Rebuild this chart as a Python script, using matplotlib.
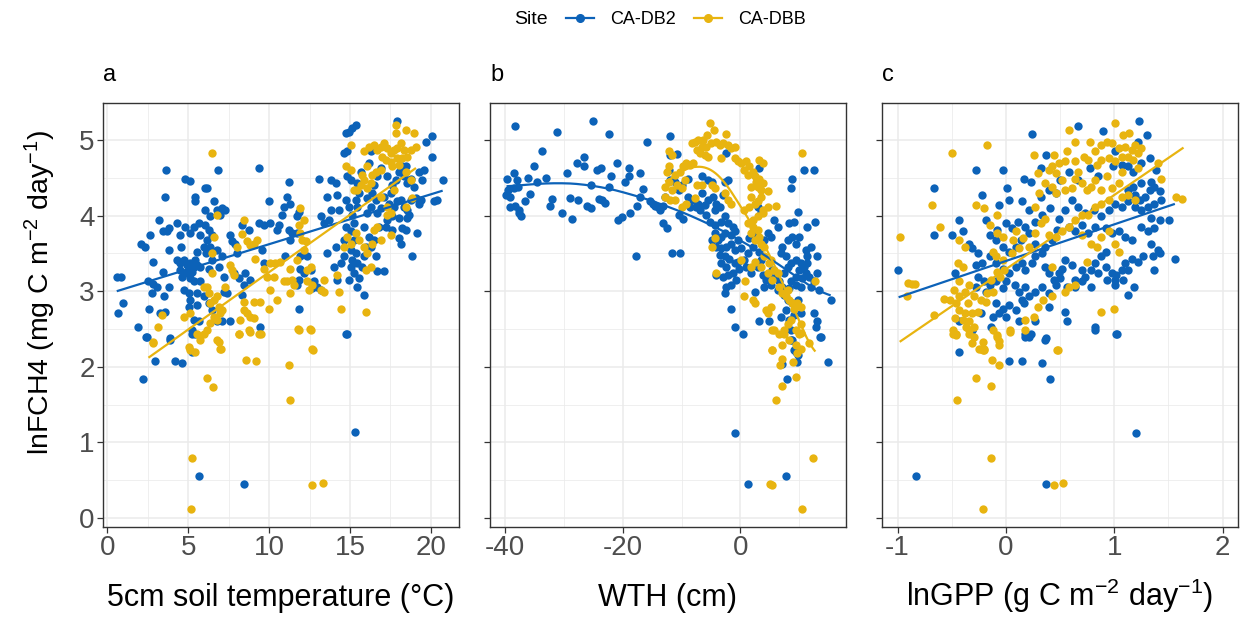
import matplotlib
matplotlib.use("Agg")
import matplotlib.pyplot as plt
from matplotlib.lines import Line2D
import numpy as np

plt.rcParams['font.family'] = ['Liberation Sans', 'DejaVu Sans']
plt.rcParams['mathtext.fontset'] = 'custom'
plt.rcParams['mathtext.rm'] = 'Liberation Sans'
plt.rcParams['mathtext.it'] = 'Liberation Sans:italic'
plt.rcParams['mathtext.bf'] = 'Liberation Sans:bold'
plt.rcParams['axes.unicode_minus'] = False

sites = ["CA-DB2", "CA-DBB"]
site_colors = ["#0C62B8", "#E8B410"]

# ---------------- Panel a: soil temperature (°C) vs lnFCH4 ----------------
a_db2 = [(0.58,3.19),(0.83,3.19),(0.99,2.85),(0.68,2.71),(1.92,2.53),(2.44,2.39),(2.6,2.76),(2.09,3.62),(2.33,3.59),
(2.64,3.74),(2.85,3.39),(2.54,3.13),(2.85,3.1),(3.06,3.06),(2.75,2.97),(3.22,3.94),(3.47,3.79),(3.68,3.79),(3.84,3.83),
(3.57,4.25),(3.64,4.6),(3.26,2.71),(3.57,2.73),(3.88,2.36),(3.78,3.55),(3.47,3.26),(3.78,3.06),(3.51,2.93),(4.3,3.9),
(4.5,3.74),(4.82,4.49),(5.08,4.46),(4.55,3.59),(4.82,3.85),(4.3,3.41),(4.5,3.37),(4.71,3.41),(4.92,3.35),(5.12,3.37),
(5.33,3.32),(5.54,3.35),(4.5,3.28),(4.82,3.24),(5.02,3.28),(5.23,3.26),(4.61,3.19),(5.12,3.17),(5.43,3.41),(5.74,3.32),
(5.54,3.52),(5.95,3.59),(5.74,3.74),(5.64,3.9),(5.12,3.77),(5.33,3.85),(6.01,4.36),(6.16,4.36),(5.43,4.25),(5.43,4.19),
(6.06,4.07),(6.57,4.19),(6.36,3.99),(6.06,3.88),(6.26,3.81),(6.47,3.74),(6.16,3.68),(6.36,3.59),(6.12,3.5),(6.47,3.41),
(6.26,3.3),(5.74,3.13),(5.33,3.13),(4.71,3.02),(5.02,2.97),(5.54,2.97),(5.12,2.88),(5.02,2.79),(5.54,2.82),(5.33,2.62),
(5.64,2.6),(5.23,2.49),(5.43,2.44),(5.95,2.93),(6.26,2.84),(6.47,2.75),(6.78,2.6),(7.09,2.6),(7.6,2.61),(6.84,4.6),
(6.78,4.07),(7.09,4.1),(7.29,4.07),(6.98,4.01),(6.78,3.55),(7.09,3.46),(6.88,3.32),(7.19,3.19),(7.19,2.99),(7.4,2.97),
(7.6,3.74),(7.71,3.66),(7.91,3.63),(8.02,3.5),(7.81,3.24),(8.12,3.17),(8.33,3.88),(8.74,3.81),(8.84,3.15),(8.53,3.24),
(8.43,3.08),(8.33,2.95),(9.36,4.63),(9.36,3.9),(9.67,3.88),(10.08,3.9),(10.6,3.88),(9.98,4.19),(9.57,3.55),(9.67,3.37),
(9.46,2.53),(10.5,3.81),(10.9,4.12),(11.12,4.25),(11.32,4.16),(10.8,4.01),(11.22,4.45),(11.22,3.81),(11.43,3.77),
(11.32,3.68),(11.0,3.46),(11.74,3.99),(11.84,4.05),(11.74,3.77),(11.94,3.46),(12.36,3.46),(11.94,3.3),(12.15,3.24),
(12.56,3.28),(11.84,3.15),(11.74,3.08),(12.77,3.13),(12.98,3.06),(12.67,3.04),(13.18,3.02),(11.84,2.77),(13.08,4.49),
(13.18,3.99),(13.39,3.9),(13.7,3.94),(13.8,4.07),(13.6,4.25),(13.8,4.47),(14.11,4.43),(14.21,4.27),(14.31,4.07),
(13.6,3.5),(14.11,3.59),(14.0,3.32),(14.21,3.15),(14.42,3.37),(14.63,3.46),(14.63,3.68),(14.73,3.85),(14.79,2.44),
(14.73,5.09),(14.94,5.11),(15.15,5.16),(15.35,5.2),(14.63,4.83),(14.83,4.85),(14.83,4.52),(15.04,4.47),(14.73,4.21),
(14.94,4.12),(15.15,4.01),(15.25,3.9),(15.35,4.21),(15.45,4.12),(15.56,4.3),(15.66,4.58),(15.45,4.43),(15.04,3.79),
(15.25,3.68),(15.04,3.55),(15.35,3.5),(15.15,3.41),(15.45,3.37),(15.04,3.32),(15.25,3.24),(15.56,3.17),(14.94,3.15),
(15.45,3.06),(15.76,3.32),(15.87,3.46),(15.87,2.95),(15.97,3.59),(16.18,3.72),(15.87,3.85),(16.07,4.03),(16.28,4.12),
(16.07,4.23),(16.38,4.3),(16.49,4.41),(16.18,4.69),(16.28,4.85),(16.69,4.52),(16.59,4.21),(16.69,4.03),(16.9,4.1),
(16.8,3.85),(16.49,3.68),(16.28,3.59),(16.59,3.46),(16.69,3.27),(17.11,3.27),(16.9,4.63),(17.31,4.52),(17.11,4.25),
(17.42,4.16),(17.52,4.3),(17.62,4.41),(17.83,4.47),(18.04,4.58),(17.93,5.25),(18.24,4.65),(18.45,4.65),(18.35,4.52),
(18.55,4.43),(18.76,4.49),(18.97,4.38),(17.73,4.12),(17.93,4.19),(18.14,4.21),(18.35,4.12),(18.55,4.07),(18.76,4.21),
(19.07,4.23),(17.31,3.94),(17.62,3.99),(17.21,3.85),(17.62,3.81),(18.04,3.97),(18.55,3.97),(18.45,3.81),(18.24,3.83),
(18.66,4.01),(18.14,3.63),(18.04,3.7),(19.17,3.77),(18.86,3.46),(19.28,4.16),(19.38,4.21),(19.59,4.6),(19.69,4.98),
(20.1,5.05),(20.1,4.78),(20.2,4.19),(20.41,4.21),(20.72,4.47),(19.48,4.47),(19.28,4.58),
(2.23,1.84),(2.96,2.07),(4.2,2.07),(4.6,2.05),(2.4,2.40),(3.89,2.38),(5.23,2.2),(5.25,2.43),
(5.64,0.55),(8.43,0.455),(15.3,1.135),(14.78,2.44)]

a_dbb = [(6.47,4.83),(8.43,3.94),(8.33,3.76),(8.64,3.66),(8.84,3.61),(9.05,3.63),(9.26,3.68),(8.02,3.59),(9.15,3.43),
(9.67,3.3),(10.08,3.37),(9.88,3.19),(10.29,3.19),(10.39,3.37),(10.7,3.39),(10.08,3.02),(11.32,3.3),(11.43,3.15),
(11.12,3.13),(10.9,3.13),(11.53,3.08),(11.94,4.1),(11.84,3.88),(12.15,3.94),(11.94,3.77),(12.04,3.68),(12.25,3.66),
(12.15,3.55),(11.74,3.41),(12.36,3.28),(12.56,3.32),(13.39,3.15),(13.18,3.02),(13.39,2.99),(12.36,3.13),(12.67,3.08),
(12.46,3.02),(11.32,2.97),(10.5,2.88),(9.98,2.77),(9.46,2.86),(9.05,2.86),(8.43,2.86),(8.43,2.75),(8.64,2.71),
(8.84,2.66),(9.05,2.64),(8.22,2.62),(8.74,2.49),(9.36,2.44),(8.12,2.44),(11.84,2.49),(12.56,2.49),(12.67,2.23),
(14.42,2.77),(15.97,2.73),(14.31,2.99),(14.21,3.21),(14.83,3.72),(15.04,3.63),(14.63,3.59),(15.35,3.77),(15.56,3.68),
(15.87,3.59),(16.07,3.5),(16.38,3.63),(16.69,3.85),(16.9,3.68),(16.49,3.81),(17.52,3.74),(17.52,4.03),(17.31,4.01),
(15.97,3.28),(16.28,3.32),(15.45,4.34),(15.66,4.41),(15.87,4.47),(16.07,4.36),(16.28,4.43),(15.04,4.94),(14.73,4.65),
(15.04,4.6),(15.25,4.34),(15.87,4.85),(16.18,4.91),(16.49,4.94),(16.69,4.87),(16.9,4.91),(17.11,4.96),(17.31,4.89),
(17.52,4.83),(17.73,4.87),(17.93,4.89),(18.14,4.96),(18.35,4.87),(18.55,4.78),(18.76,4.87),(18.45,5.13),(18.97,5.09),
(17.83,5.09),(17.83,5.2),(16.97,4.78),(17.21,4.74),(17.52,4.71),(17.93,4.76),(18.24,4.76),(17.62,4.65),(18.04,4.67),
(18.45,4.58),(18.76,4.47),(16.9,4.6),(16.59,4.58),(16.38,4.54),(16.07,4.65),(15.76,4.54),(19.07,4.91),(18.86,4.23),
(18.45,4.12),(17.31,4.12),(16.9,4.25),(17.73,4.34),
(6.78,4.01),(6.57,3.72),(6.47,3.5),(5.95,3.06),(6.16,3.06),(6.26,2.97),(6.47,3.24),(6.36,2.84),(6.57,2.88),(6.78,2.93),
(6.88,2.79),(7.09,2.75),(6.98,2.71),(6.57,2.66),(6.78,2.62),(6.36,2.58),(6.16,2.49),(5.95,2.44),(5.54,2.44),(6.78,2.35),
(6.98,2.24),(5.02,2.26),(5.12,2.22),(5.74,2.35),(4.71,2.66),(5.12,2.71),(3.16,2.53),(2.85,2.33),(3.37,2.68),(7.6,3.35),
(7.71,3.28),(7.29,3.06),(7.81,3.21),
(2.85,2.32),(5.44,2.2),(6.16,1.85),(6.54,1.73),(6.9,2.33),(7.0,2.23),(8.12,2.43),(8.8,2.46),(9.5,2.43),(8.6,2.09),
(9.2,2.07),(11.22,2.02),(11.28,1.56),(11.8,2.5),(12.5,2.5),(12.71,2.22),(5.23,0.79),(5.17,0.115),(12.67,0.44),(13.33,0.46)]

a_fit_db2 = [(0.58, 3.0), (20.73, 4.33)]
a_fit_dbb = [(2.54, 2.12), (19.08, 4.63)]

# ---------------- Panel b: WTH (cm) vs lnFCH4 ----------------
b_db2 = [(-38.2,5.19),(-31.1,5.11),(-25.1,5.25),(-22.3,5.08),(-33.7,4.85),(-39.7,4.49),(-38.5,4.57),(-38.0,4.47),
(-39.4,4.34),(-39.8,4.27),(-39.1,4.25),(-38.5,4.36),(-37.8,4.38),(-39.1,4.12),(-38.2,4.13),(-37.5,4.07),(-37.2,3.99),
(-37.6,4.03),(-36.1,4.5),(-35.0,4.66),(-35.7,4.29),(-36.5,4.19),(-34.5,4.44),(-33.0,4.5),(-32.0,4.22),(-32.4,4.13),
(-30.2,4.04),(-29.5,4.57),(-29.0,4.23),(-28.6,3.96),(-27.5,4.21),(-27.7,4.69),(-26.5,4.65),(-26.5,4.77),(-26.0,4.13),
(-25.4,4.1),(-25.3,4.41),(-24.3,4.6),(-23.6,4.63),(-24.0,4.22),(-23.5,4.21),(-23.0,4.17),(-22.3,4.38),(-21.9,4.52),
(-20.9,4.69),(-20.8,3.94),(-20.1,3.98),(-19.6,4.44),(-19.0,4.63),(-18.7,4.03),(-19.0,4.53),(-17.6,4.13),(-17.7,3.46),
(-17.0,4.56),(-16.6,4.35),(-15.9,4.98),(-17.0,4.24),(-15.3,4.19),(-14.9,4.15),(-14.5,4.13),(-14.0,4.11),(-13.6,4.08),
(-13.2,4.13),(-12.8,4.25),(-13.1,3.9),(-12.5,3.83),(-12.2,4.6),(-12.0,5.05),(-11.7,3.5),(-10.3,3.5),(-12.0,4.8),
(-10.8,4.82),(-12.0,4.47),(-11.1,4.45),(-10.5,4.34),(-10.0,4.41),(-10.5,4.01),(-9.7,3.96),(-8.9,4.49),(-8.9,4.25),
(-8.0,4.21),(-8.6,4.12),(-7.2,4.16),(-6.6,4.52),(-6.6,4.3),(-5.5,4.47),(-4.9,4.45),(-7.5,4.12),(-6.9,4.07),(-6.1,4.14),
(-5.5,4.21),(-4.7,4.25),(-4.1,4.16),(-4.4,4.07),(-3.5,4.12),(-2.97,4.27),(-2.7,4.45),(-2.1,4.47),(-2.4,4.83),
(-5.8,4.01),(-5.2,3.92),(-4.4,3.88),(-3.3,3.92),(-2.7,3.99),(-2.1,3.9),(-1.3,3.85),(-1.0,3.79),(-1.6,3.74),(-2.7,3.77),
(-3.3,3.72),(-3.8,3.68),(-4.4,3.77),(-4.9,3.68),(-4.1,3.59),(-3.3,3.57),(-2.4,3.59),(-1.6,3.63),(-1.0,3.55),(-0.45,3.68),
(0.1,3.57),(-3.5,3.48),(-2.7,3.46),(-1.9,3.43),(-1.0,3.37),(-0.45,3.39),(-0.2,3.3),(-3.3,3.37),(-2.4,3.32),(-4.1,3.21),
(-2.97,3.19),(-2.1,3.21),(-1.3,3.24),(-2.4,3.06),(-1.6,3.08),(-0.7,3.15),(-2.7,2.97),(-1.6,2.77),(-1.0,2.53),(0.4,2.44),
(2.4,2.99),(3.2,2.6),(4.9,2.6),(1.2,3.5),(2.1,3.59),(1.5,3.7),(2.4,3.77),(0.67,3.41),(1.0,3.32),(1.8,3.24),(2.9,3.32),
(3.5,3.41),(3.2,3.52),(4.0,3.68),(4.6,3.77),(5.2,3.72),(5.7,3.94),(6.3,3.85),(3.5,4.05),(2.9,4.12),(3.2,4.63),
(3.8,3.21),(4.3,3.15),(4.9,3.19),(5.4,3.28),(6.0,3.19),(6.6,3.13),(4.0,3.06),(5.2,3.08),(6.3,3.02),(7.1,3.06),(7.4,3.24),
(8.0,3.32),(8.5,3.37),(7.7,3.46),(6.8,3.5),(7.1,3.59),(8.0,3.68),(8.8,3.72),(9.4,3.63),(9.9,3.72),(8.2,3.9),(9.1,3.92),
(9.7,4.05),(11.3,3.85),(12.6,3.92),(8.5,4.36),(8.8,4.48),(10.8,4.6),(12.5,4.6),(9.4,3.41),(10.2,3.37),(10.8,3.32),
(11.3,3.37),(9.9,3.28),(9.4,3.19),(10.5,3.17),(11.1,3.24),(11.6,3.19),(8.5,3.13),(9.4,3.08),(10.2,3.06),(8.2,3.04),
(7.4,2.95),(11.9,3.06),(12.5,3.13),(13.0,3.24),(13.0,3.46),(11.1,3.55),(11.9,3.59),(11.3,3.46),(15.3,2.89),(13.3,3.02),
(8.0,2.88),(8.8,2.84),(9.7,2.88),(7.7,2.75),(6.8,2.66),(8.2,2.62),(9.1,2.68),(10.2,2.71),(12.5,2.71),(13.0,2.6),
(12.8,2.53),(8.5,2.49),(8.8,2.35),(9.1,2.22),(9.7,2.15),(13.6,2.4),(14.8,2.06),
(8.6,2.36),(9.5,2.2),(7.1,2.04),(9.65,2.06),(7.9,1.84),(13.5,2.39),(-0.9,1.13),(1.23,0.455),(7.8,0.55)]

b_dbb = [(-5.2,5.22),(-4.5,5.13),(-2.4,5.08),(-5.6,5.07),(-6.3,5.0),(-7.2,5.0),(-7.7,4.98),(-8.3,4.96),(-6.6,4.91),
(-5.8,4.91),(-7.4,4.87),(-6.9,4.83),(-6.1,4.8),(-5.5,4.78),(-5.0,4.96),(-4.1,4.98),(-3.5,4.94),(-3.0,4.96),(-2.1,4.94),
(-1.6,4.89),(-1.0,4.91),(-3.3,4.76),(-1.0,4.76),(-0.45,4.72),(0.1,4.69),(0.95,4.72),(1.5,4.65),(0.67,4.6),(1.2,4.54),
(2.1,4.58),(2.4,4.52),(2.6,4.45),(3.2,4.49),(2.9,4.38),(3.5,4.34),(3.8,4.43),(3.2,4.74),(3.8,4.69),(10.5,4.83),
(4.6,4.32),(3.5,4.25),(-12.2,4.85),(-11.7,4.8),(-12.2,4.65),(-12.5,4.58),(-11.1,4.54),(-10.3,4.58),(-9.7,4.65),
(-9.2,4.69),(-8.6,4.67),(-8.0,4.69),(-12.2,4.45),(-12.8,4.38),(-11.7,4.34),(-10.8,4.41),(-10.0,4.36),(-12.8,4.25),
(-12.0,4.21),(-11.1,4.21),(-9.2,4.16),(-10.0,4.12),(-9.4,4.47),(-7.7,4.23),(-7.4,4.41),(-6.6,4.41),(-4.9,4.41),
(-4.4,4.36),(-2.7,4.3),(-2.1,4.21),(-1.6,4.16),(1.8,4.38),(1.8,4.25),(2.4,4.16),(2.9,4.19),(1.5,4.12),(0.67,4.07),
(3.8,4.07),(4.6,4.12),(6.0,4.13),(3.8,4.03),(2.9,3.99),(2.1,3.94),(1.2,3.9),(2.1,3.85),(2.9,3.81),(1.8,3.77),(2.4,3.68),
(3.2,3.72),(3.5,3.63),(4.0,3.59),(-4.4,3.7),(-4.9,3.59),(-4.1,3.24),(0.1,3.41),(0.7,3.13),(1.8,3.32),(2.4,3.39),
(3.5,3.32),(4.0,3.46),(4.9,3.37),(4.6,3.24),(5.2,3.41),(5.7,3.28),(6.3,3.24),(5.4,3.15),(6.6,3.06),(7.1,2.97),(8.0,3.02),
(7.7,2.93),(8.2,2.88),(8.8,2.84),(9.1,2.77),(9.65,2.84),(10.2,2.79),(12.7,3.13),(4.3,2.75),(4.6,2.71),(5.2,2.79),
(5.7,2.49),(6.6,2.44),(7.4,2.49),(8.0,2.57),(8.5,2.62),(9.4,2.49),(9.9,2.44),(10.2,2.57),(5.4,2.22),(7.1,2.29),
(8.2,2.35),(9.4,2.29),(9.65,2.18),(10.2,2.24),(2.1,2.88),(2.4,2.84),(0.67,2.93),
(5.4,2.49),(7.3,2.43),(5.3,2.22),(6.7,2.02),(7.1,2.1),(8.9,2.06),(9.4,1.86),(7.0,1.74),(6.0,1.56),(11.6,2.32),
(10.2,2.45),(12.3,0.79),(5.0,0.455),(5.3,0.43),(10.4,0.115)]

b_fit_db2 = [(-39.7,4.38),(-32.4,4.44),(-25.1,4.41),(-17.8,4.27),(-12.2,4.12),(-6.6,3.94),(-1.0,3.72),(4.6,3.46),
(10.2,3.15),(15.3,2.89)]
b_fit_dbb = [(-12.8,4.42),(-10.0,4.6),(-7.2,4.67),(-5.0,4.62),(-3.3,4.52),(-1.0,4.25),(1.8,3.9),(4.6,3.55),(7.4,3.06),
(10.2,2.57),(12.7,2.11)]

# ---------------- Panel c: lnGPP vs lnFCH4 ----------------
c_db2 = [(-1.0,3.28),(-0.66,4.36),(-0.66,3.74),(-0.28,4.6),(-0.03,4.6),(0.24,5.08),(0.67,5.19),(0.9,5.12),(1.23,5.25),
(1.3,5.06),(1.22,4.97),(1.01,4.85),(0.37,4.8),(0.32,4.63),(0.17,4.49),(0.23,4.45),(0.01,4.36),(-0.22,4.27),(-0.06,4.14),
(0.03,4.21),(0.15,4.19),(0.21,4.07),(0.32,4.25),(0.4,4.34),(0.46,4.3),(0.5,4.47),(0.58,4.58),(0.67,4.47),(0.78,4.63),
(0.85,4.52),(0.99,4.65),(1.07,4.67),(1.13,4.65),(1.17,4.58),(1.25,4.69),(1.33,4.76),(1.39,4.6),(1.34,4.45),(1.25,4.43),
(1.17,4.38),(1.13,4.34),(1.19,4.27),(1.24,4.21),(1.28,4.25),(1.33,4.34),(1.37,4.38),(1.42,4.32),(1.43,4.21),(1.37,4.16),
(1.31,4.12),(1.25,4.07),(1.19,4.12),(1.13,4.19),(1.07,4.12),(1.01,4.16),(0.95,4.07),(0.88,3.99),(0.81,4.07),(0.73,4.03),
(0.67,4.12),(0.61,4.21),(0.55,4.07),(0.49,3.96),(0.41,4.1),(0.33,4.01),(0.27,3.92),(0.18,3.85),(0.11,3.92),(0.06,3.83),
(0.0,3.9),(-0.08,3.81),(-0.18,3.94),(-0.15,3.74),(-0.09,3.68),(-0.03,3.59),(0.03,3.52),(0.09,3.59),(0.14,3.68),
(0.21,3.77),(0.27,3.63),(0.36,3.59),(0.43,3.68),(0.47,3.81),(0.58,3.85),(0.64,3.79),(0.7,3.88),(0.76,3.77),(0.82,3.85),
(0.92,3.83),(0.98,3.77),(1.04,3.79),(1.1,3.72),(1.16,3.68),(1.25,3.85),(1.31,3.79),(1.37,3.83),(1.42,3.94),(1.34,3.97),
(1.51,3.94),(1.34,3.63),(1.4,3.55),(1.36,3.46),(1.42,3.5),(1.27,3.46),(1.22,3.39),(1.16,3.43),(1.1,3.37),(1.07,3.28),
(1.02,3.21),(0.98,3.24),(0.92,3.32),(0.88,3.46),(0.92,3.52),(0.82,3.37),(0.79,3.28),(0.73,3.19),(0.7,3.28),(0.64,3.15),
(0.61,3.35),(0.55,3.41),(0.52,3.3),(0.49,3.24),(0.44,3.15),(0.4,3.24),(0.36,3.32),(0.33,3.5),(0.27,3.46),(0.24,3.37),
(0.18,3.28),(0.15,3.37),(0.09,3.32),(0.03,3.24),(-0.03,3.3),(-0.09,3.37),(-0.15,3.46),(-0.22,3.37),(-0.28,3.35),
(-0.31,3.57),(-0.26,3.5),(-0.34,3.63),(-0.43,3.94),(-0.4,3.79),(-0.5,3.74),(-0.47,3.24),(-0.26,3.19),(-0.2,3.13),
(-0.28,3.06),(-0.18,2.99),(-0.15,3.08),(-0.09,3.13),(-0.03,3.04),(0.0,3.13),(0.08,3.08),(0.12,2.99),(0.18,3.06),
(0.15,2.88),(0.21,2.93),(0.27,2.99),(0.33,3.06),(0.4,2.97),(0.46,3.08),(0.5,3.17),(0.56,3.06),(0.64,3.06),(0.7,3.13),
(0.79,3.06),(0.85,3.24),(0.93,3.15),(1.01,3.15),(1.08,3.15),(1.13,3.28),(1.18,3.06),(1.13,2.95),(1.01,3.08),(1.37,3.28),
(1.56,3.43),(-0.09,2.84),(-0.03,2.77),(0.03,2.82),(0.09,2.75),(0.0,2.66),(0.12,2.6),(0.17,2.84),(0.18,2.44),(0.21,2.4),
(0.27,2.6),(0.37,2.38),(0.4,2.79),(0.55,2.73),(0.56,2.6),(0.82,2.53),(1.02,2.44),(-0.06,2.71),(-0.14,2.53),(-0.12,2.66),
(-0.23,2.71),(-0.31,2.49),(-0.43,2.6),(-0.43,2.2),
(-0.31,2.48),(0.03,2.07),(0.15,2.07),(0.33,2.05),(0.18,2.39),(0.23,2.43),(0.36,2.36),(0.41,1.84),(1.03,2.44),
(0.82,2.49),(1.2,1.13),(-0.83,0.55),(0.37,0.455)]

c_dbb = [(-0.98,3.72),(-0.9,3.11),(-0.87,3.1),(-0.84,3.1),(-0.91,2.93),(-0.68,4.14),(-0.5,4.83),(-0.17,4.94),
(-0.61,3.85),(-0.66,2.68),(-0.57,2.9),(-0.52,2.88),(-0.48,3.02),(-0.46,2.84),(-0.43,2.93),(-0.47,2.64),(-0.49,2.49),
(-0.46,2.44),(-0.43,2.75),(-0.38,2.71),(-0.35,2.84),(-0.4,2.62),(-0.34,2.6),(-0.31,2.71),(-0.26,2.73),(-0.29,2.53),
(-0.34,2.49),(-0.37,2.53),(-0.4,3.32),(-0.43,3.68),(-0.38,3.59),(-0.28,4.14),(-0.2,4.1),(-0.44,3.37),(-0.43,3.13),
(-0.38,2.99),(-0.34,3.08),(-0.29,2.93),(-0.23,2.88),(-0.18,2.86),(-0.17,2.97),(-0.14,3.15),(-0.12,2.99),(-0.08,3.26),
(-0.05,3.19),(-0.02,3.28),(-0.09,3.46),(-0.03,3.41),(-0.12,3.52),(-0.08,3.77),(-0.08,4.01),(-0.15,3.88),(-0.03,3.72),
(-0.29,2.4),(-0.21,2.33),(-0.23,2.24),(-0.2,2.22),(-0.12,2.49),(-0.08,2.4),(-0.06,2.29),(0.04,2.49),(0.18,2.62),
(0.26,2.66),(0.3,2.79),(0.34,2.88),(0.43,2.93),(0.47,2.22),(0.55,2.99),(0.58,3.06),(0.64,3.08),(0.88,2.73),(1.0,2.77),
(0.75,3.39),(0.43,3.32),(0.06,3.5),(0.07,3.68),(0.12,3.57),(0.09,3.79),(0.16,3.7),(0.21,3.59),(0.27,3.77),(0.32,3.9),
(0.36,3.96),(0.27,4.12),(0.31,4.3),(0.36,4.43),(0.43,4.38),(0.46,4.3),(0.4,4.6),(0.43,4.65),(0.46,4.56),(0.52,4.47),
(0.55,4.34),(0.61,4.36),(0.64,4.49),(0.67,4.58),(0.7,4.43),(0.75,4.34),(0.79,4.38),(0.82,4.47),(0.88,4.34),(0.93,4.52),
(0.98,4.36),(1.04,4.43),(1.07,4.25),(1.13,4.27),(1.19,4.21),(0.95,4.21),(0.88,4.16),(0.82,4.12),(0.76,4.01),(0.7,4.01),
(0.64,3.94),(0.58,3.85),(0.52,3.79),(0.46,3.72),(0.4,3.74),(0.7,3.74),(0.79,3.63),(0.84,3.59),(0.88,3.72),(0.95,3.79),
(1.01,3.63),(1.04,3.52),(0.56,4.85),(0.64,4.98),(0.58,5.13),(0.78,4.98),(0.82,4.85),(0.88,4.94),(0.93,4.98),(0.98,4.96),
(1.01,5.22),(1.04,4.89),(1.08,5.07),(1.14,5.09),(1.1,4.91),(1.16,4.87),(1.19,4.94),(1.25,4.89),(1.13,4.78),(1.07,4.78),
(1.17,4.74),(1.22,4.83),(1.01,4.72),(0.95,4.76),(0.88,4.74),(0.84,4.67),(0.76,4.74),(0.72,4.78),(0.64,4.72),(0.55,4.72),
(0.49,4.69),(0.44,4.8),(0.26,4.8),(0.3,4.56),(1.4,4.69),(1.43,4.49),(1.22,4.63),(1.07,4.58),(1.57,4.25),(1.63,4.22),
(-0.49,2.44),(-0.46,2.42),(-0.34,2.44),(-0.31,2.32),(-0.25,2.23),(-0.21,2.22),(-0.2,2.24),(-0.08,2.42),(-0.06,2.34),
(-0.13,2.09),(-0.06,2.02),(0.04,2.46),(0.18,2.49),(0.48,2.22),(-0.28,1.85),(-0.14,1.74),(-0.45,1.56),(-0.14,0.79),
(0.44,0.44),(0.53,0.46),(-0.21,0.115)]

c_fit_db2 = [(-0.99, 2.92), (1.56, 4.155)]
c_fit_dbb = [(-0.98, 2.33), (1.64, 4.90)]

panel_letters = ["a", "b", "c"]
x_labels = ["5cm soil temperature (°C)", "WTH (cm)", r"lnGPP (g C m$^{-2}$ day$^{-1}$)"]
y_label = r"lnFCH4 (mg C m$^{-2}$ day$^{-1}$)"
x_major = [[0, 5, 10, 15, 20], [-40, -20, 0], [-1, 0, 1, 2]]
x_minor = [[2.5, 7.5, 12.5, 17.5], [-30, -10, 10], [-0.5, 0.5, 1.5]]
x_lims = [(-0.27, 21.74), (-42.5, 17.9), (-1.146, 2.14)]
y_major = [0, 1, 2, 3, 4, 5]
y_minor = [0.5, 1.5, 2.5, 3.5, 4.5]
y_lim = (-0.12, 5.49)

panels = [(a_db2, a_dbb, a_fit_db2, a_fit_dbb),
          (b_db2, b_dbb, b_fit_db2, b_fit_dbb),
          (c_db2, c_dbb, c_fit_db2, c_fit_dbb)]

W, H = 1243, 617
fig = plt.figure(figsize=(W / 100, H / 100), dpi=100)
lefts_px = [103, 490, 881.7]
width_px = 356
bottom = 1 - 527 / H
height = (527 - 103) / H

grid_col = "#EBEBEB"
border_col = "#333333"
tick_lab_col = "#4D4D4D"

for i, (p_db2, p_dbb, f_db2, f_dbb) in enumerate(panels):
    ax = fig.add_axes([lefts_px[i] / W, bottom, width_px / W, height])
    ax.set_xlim(*x_lims[i])
    ax.set_ylim(*y_lim)
    ax.set_xticks(x_major[i])
    ax.set_xticks(x_minor[i], minor=True)
    ax.set_yticks(y_major)
    ax.set_yticks(y_minor, minor=True)
    ax.grid(True, which="major", color=grid_col, lw=1.1, zorder=0)
    ax.grid(True, which="minor", color=grid_col, lw=0.55, zorder=0)
    ax.set_axisbelow(True)
    for s in ax.spines.values():
        s.set_color(border_col)
        s.set_linewidth(1.0)
    ax.tick_params(which="major", length=4, width=0.9, color=border_col,
                   labelsize=20, labelcolor=tick_lab_col, pad=2)
    ax.tick_params(which="minor", length=0)
    if i > 0:
        ax.tick_params(axis="y", labelleft=False)

    for pts, col in ((p_db2, site_colors[0]), (p_dbb, site_colors[1])):
        xs = [p[0] for p in pts]
        ys = [p[1] for p in pts]
        ax.scatter(xs, ys, s=36, color=col, linewidths=0, zorder=2)
    for fit, col in ((f_db2, site_colors[0]), (f_dbb, site_colors[1])):
        fx = [p[0] for p in fit]
        fy = [p[1] for p in fit]
        if len(fx) > 2:
            xx = np.linspace(fx[0], fx[-1], 200)
            yy = np.interp(xx, fx, fy)
            k = 15
            yy_s = np.convolve(np.pad(yy, k, mode="edge"), np.ones(2 * k + 1) / (2 * k + 1), mode="same")[k:-k]
            ax.plot(xx, yy_s, color=col, lw=1.6, zorder=3, solid_capstyle="butt")
        else:
            ax.plot(fx, fy, color=col, lw=1.6, zorder=3, solid_capstyle="butt")

    # x axis title, placed on a common baseline under each panel
    fig.text((lefts_px[i] + width_px / 2) / W, 1 - 606 / H, x_labels[i], fontsize=22,
             ha="center", va="baseline", color="black")
    fig.text(lefts_px[i] / W, 1 - 75 / H, panel_letters[i], fontsize=17,
             ha="left", va="center", color="black")

fig.text(40 / W, 1 - 293 / H, y_label, rotation=90, fontsize=20.5,
         ha="center", va="center", color="black")

# legend
handles = [Line2D([0], [0], color=c, lw=1.6, marker="o", markersize=5.5) for c in site_colors]
fig.legend(handles, sites, loc="center", bbox_to_anchor=(686 / W, 1 - 20 / H), ncol=2,
           frameon=False, fontsize=13, handlelength=1.55, handletextpad=0.9,
           columnspacing=1.0, borderaxespad=0)
fig.text(548 / W, 1 - 20 / H, "Site", fontsize=14, ha="right", va="center", color="black")

fig.savefig("out.png", dpi=100)
